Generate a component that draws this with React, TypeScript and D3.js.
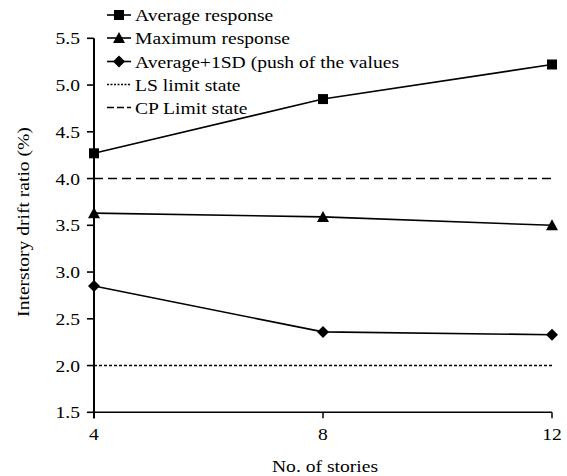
import React from "react";
import * as d3 from "d3";

const stories = [4, 8, 12];
const averageResponse = [4.27, 4.85, 5.22];
const maximumResponse = [3.63, 3.59, 3.5];
const averagePlusSD = [2.85, 2.36, 2.33];
const lsLimit = 2.0;
const cpLimit = 4.0;
const yTicks = [1.5, 2.0, 2.5, 3.0, 3.5, 4.0, 4.5, 5.0, 5.5];
const legendLabels = [
  "Average response",
  "Maximum response",
  "Average+1SD (push of the values",
  "LS limit state",
  "CP Limit state",
];

const W = 567;
const H = 476;
const font = "'Liberation Serif', 'Times New Roman', serif";
const SX = 1.12; // glyphs in the original are a bit wider than tall

// text with horizontal stretch
const T = ({ x, y, rotate = 0, anchor = "start", dy, children }: any) => (
  <text
    transform={`translate(${x},${y}) rotate(${rotate}) scale(${SX},1)`}
    textAnchor={anchor}
    dy={dy}
    style={{ fontFamily: font, fontSize: 17.5 }}
  >
    {children}
  </text>
);

const Marker = ({ type, x, y }: { type: string; x: number; y: number }) => {
  if (type === "square")
    return <rect x={x - 5} y={y - 5} width={10} height={10} fill="#000" />;
  if (type === "triangle")
    return <path d={`M${x},${y - 6}L${x + 6},${y + 5}L${x - 6},${y + 5}Z`} fill="#000" />;
  return <path d={`M${x},${y - 6}L${x + 6},${y}L${x},${y + 6}L${x - 6},${y}Z`} fill="#000" />;
};

export default function App() {
  const x = d3.scaleLinear().domain([4, 12]).range([94, 552]);
  const y = d3.scaleLinear().domain([1.5, 5.5]).range([412.3, 38.3]);
  const line = d3
    .line<number>()
    .x((_, i) => x(stories[i]))
    .y((d) => y(d));

  const series = [
    { values: averageResponse, marker: "square" },
    { values: maximumResponse, marker: "triangle" },
    { values: averagePlusSD, marker: "diamond" },
  ];

  const legendY = [15, 38, 61.5, 84.5, 107.5];

  return (
    <svg
      width={W}
      height={H}
      style={{ position: "absolute", left: 0, top: 0, background: "#fff" }}
    >
      {/* limit states */}
      <line x1={x(4)} x2={x(12)} y1={y(cpLimit)} y2={y(cpLimit)} stroke="#000" strokeWidth={1.6} strokeDasharray="9,5" />
      <line x1={x(4)} x2={x(12)} y1={y(lsLimit)} y2={y(lsLimit)} stroke="#000" strokeWidth={1.6} strokeDasharray="3,2" />

      {/* x axis */}
      <line x1={x(4)} x2={x(12)} y1={y(1.5)} y2={y(1.5)} stroke="#000" strokeWidth={1.6} />
      {stories.map((s) => (
        <g key={s}>
          <line x1={x(s)} x2={x(s)} y1={y(1.5)} y2={y(1.5) + 6} stroke="#000" strokeWidth={1.5} />
          <T x={x(s)} y={y(1.5) + 28} anchor="middle">
            {s}
          </T>
        </g>
      ))}
      <T x={325} y={472} anchor="middle">
        No. of stories
      </T>

      {/* y axis */}
      <line x1={x(4)} x2={x(4)} y1={y(5.5)} y2={y(1.5) + 6} stroke="#000" strokeWidth={2} />
      {yTicks.map((t) => (
        <g key={t}>
          <line x1={x(4) - 7} x2={x(4)} y1={y(t)} y2={y(t)} stroke="#000" strokeWidth={1.6} />
          <T x={x(4) - 14} y={y(t)} dy="0.35em" anchor="end">
            {t.toFixed(1)}
          </T>
        </g>
      ))}
      <T x={29} y={222} rotate={-90} anchor="middle">
        Interstory drift ratio (%)
      </T>

      {/* series */}
      {series.map((s, i) => (
        <g key={i}>
          <path d={line(s.values) || ""} fill="none" stroke="#000" strokeWidth={1.6} />
          {s.values.map((v, j) => (
            <Marker key={j} type={s.marker} x={x(stories[j])} y={y(v)} />
          ))}
        </g>
      ))}

      {/* legend */}
      {legendLabels.map((label, i) => {
        const ly = legendY[i];
        const dash = i === 3 ? "2,1.5" : i === 4 ? "7,3" : undefined;
        return (
          <g key={label}>
            <line x1={107} x2={131} y1={ly} y2={ly} stroke="#000" strokeWidth={1.6} strokeDasharray={dash} />
            {i < 3 && <Marker type={series[i].marker} x={119} y={ly} />}
            <T x={135} y={ly} dy="0.35em">
              {label}
            </T>
          </g>
        );
      })}
    </svg>
  );
}
